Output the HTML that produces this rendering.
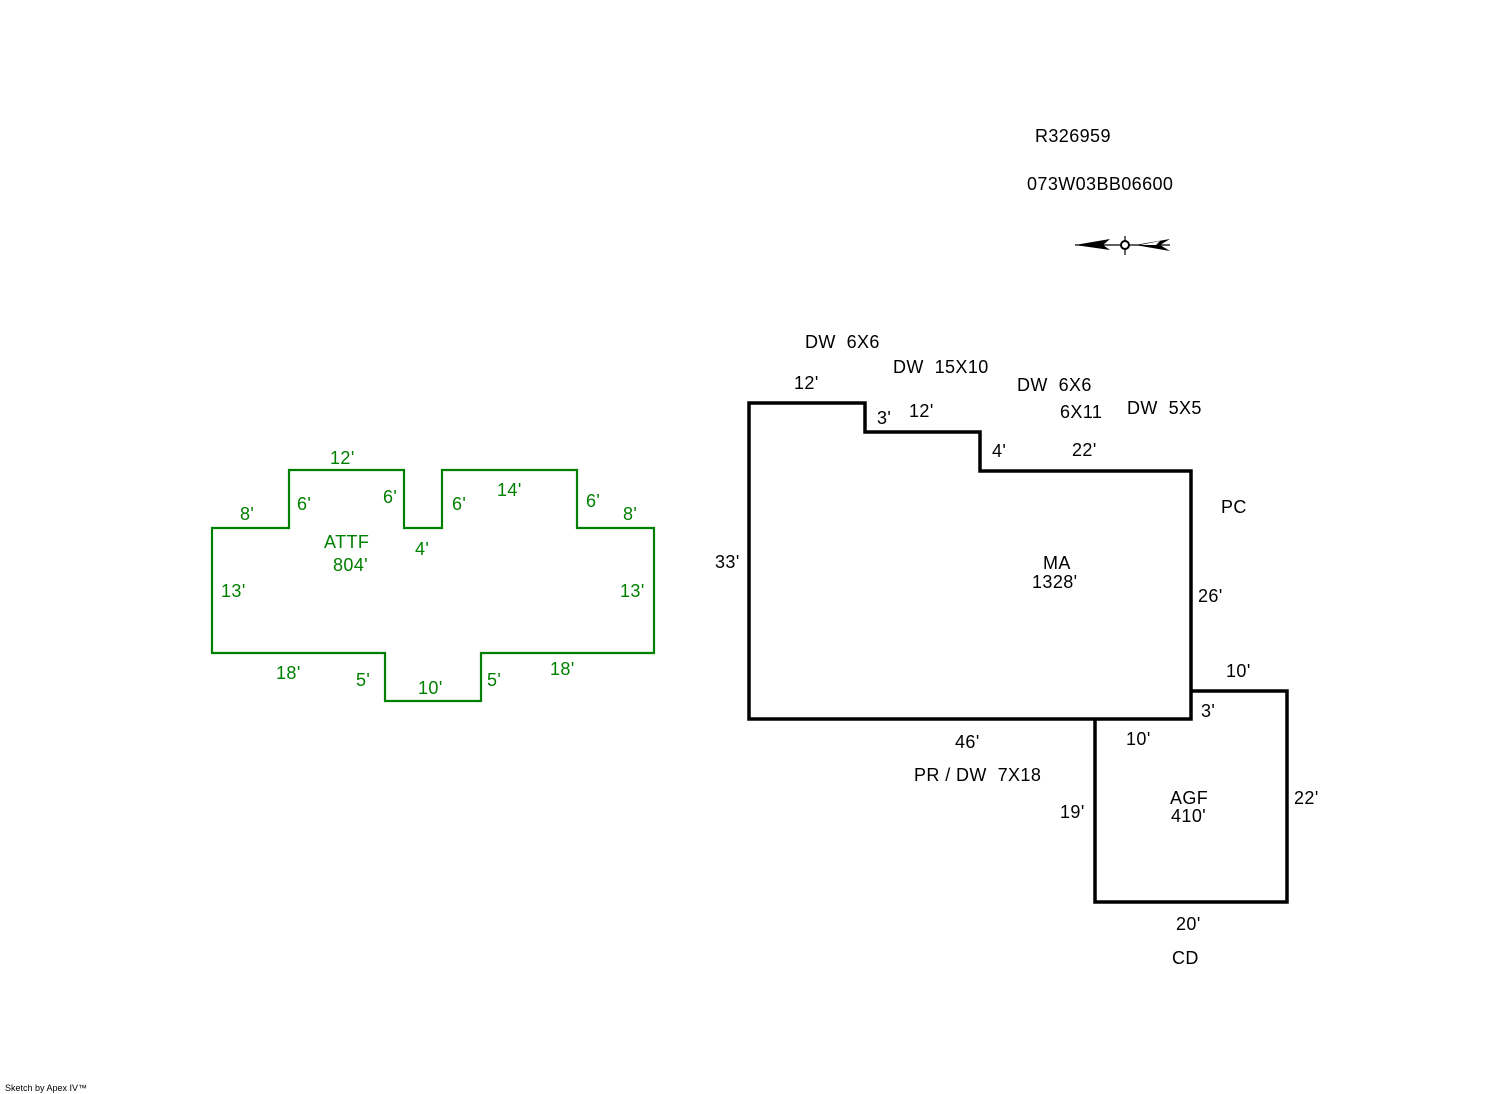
<!DOCTYPE html>
<html><head><meta charset="utf-8"><style>
html,body{margin:0;padding:0;background:#fff;}
svg{display:block;}
text{font-family:"Liberation Sans",Arial,sans-serif;font-size:18px;fill:#000;white-space:pre;letter-spacing:0.4px;}
.g{fill:#008000;}
</style></head><body>
<svg width="1492" height="1094" viewBox="0 0 1492 1094" xmlns="http://www.w3.org/2000/svg" xml:space="preserve">
<rect width="1492" height="1094" fill="#fff"/>
<text x="1035" y="142">R326959</text>
<text x="1027" y="190">073W03BB06600</text>
<g stroke="#000" stroke-width="1.2">
<line x1="1075" y1="245" x2="1170" y2="245"/>
<line x1="1125" y1="236" x2="1125" y2="255"/>
</g>
<polygon points="1075,245 1110,239 1103,245 1110,250" fill="#000"/>
<polygon points="1135,245 1170,239 1160,245 1170,251" fill="#000"/>
<polygon points="1140,245 1160,241 1156,245" fill="#fff"/>
<circle cx="1125" cy="245" r="4" fill="#fff" stroke="#000" stroke-width="2"/>

<polygon points="749,403 865,403 865,432 980,432 980,471 1191,471 1191,719 749,719" fill="none" stroke="#000" stroke-width="3.5"/>
<polyline points="1095,719 1095,902 1287,902 1287,691 1191,691" fill="none" stroke="#000" stroke-width="3.5"/>
<polygon points="212,528 289,528 289,470 404,470 404,528 442,528 442,470 577,470 577,528 654,528 654,653 481,653 481,701 385,701 385,653 212,653" fill="none" stroke="#008000" stroke-width="2.2"/>

<text class="g" x="330" y="464">12'</text>
<text class="g" x="240" y="520">8'</text>
<text class="g" x="297" y="510">6'</text>
<text class="g" x="383" y="503">6'</text>
<text class="g" x="452" y="510">6'</text>
<text class="g" x="497" y="496">14'</text>
<text class="g" x="586" y="507">6'</text>
<text class="g" x="623" y="520">8'</text>
<text class="g" x="324" y="548">ATTF</text>
<text class="g" x="333" y="571">804'</text>
<text class="g" x="415" y="555">4'</text>
<text class="g" x="221" y="597">13'</text>
<text class="g" x="620" y="597">13'</text>
<text class="g" x="276" y="679">18'</text>
<text class="g" x="356" y="686">5'</text>
<text class="g" x="418" y="694">10'</text>
<text class="g" x="487" y="686">5'</text>
<text class="g" x="550" y="675">18'</text>

<text x="805" y="348">DW  6X6</text>
<text x="893" y="373">DW  15X10</text>
<text x="1017" y="391">DW  6X6</text>
<text x="1060" y="418">6X11</text>
<text x="1127" y="414">DW  5X5</text>
<text x="794" y="389">12'</text>
<text x="877" y="424">3'</text>
<text x="909" y="417">12'</text>
<text x="992" y="457">4'</text>
<text x="1072" y="456">22'</text>
<text x="1221" y="513">PC</text>
<text x="715" y="568">33'</text>
<text x="1043" y="569">MA</text>
<text x="1032" y="588">1328'</text>
<text x="1198" y="602">26'</text>
<text x="1226" y="677">10'</text>
<text x="1201" y="717">3'</text>
<text x="955" y="748">46'</text>
<text x="1126" y="745">10'</text>
<text x="914" y="781">PR / DW  7X18</text>
<text x="1060" y="818">19'</text>
<text x="1170" y="804">AGF</text>
<text x="1171" y="822">410'</text>
<text x="1294" y="804">22'</text>
<text x="1176" y="930">20'</text>
<text x="1172" y="964">CD</text>
<text x="5" y="1091" style="font-size:9px;letter-spacing:0">Sketch by Apex IV™</text>
</svg>
</body></html>
